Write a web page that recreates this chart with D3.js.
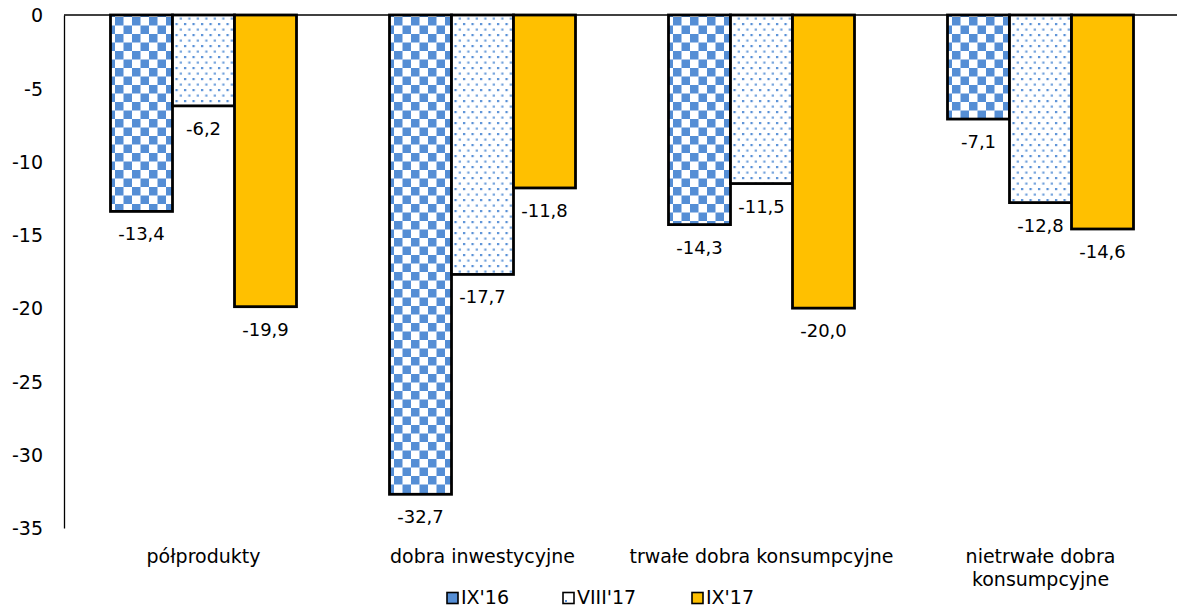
<!DOCTYPE html>
<html>
<head>
<meta charset="utf-8">
<script src="https://cdn.jsdelivr.net/npm/d3@7"></script>
<style>
  html, body { margin: 0; padding: 0; background: #fff; }
  svg { display: block; }
  text { font-family: "DejaVu Sans", Verdana, sans-serif; fill: #000; }
</style>
</head>
<body>
<svg id="chart" width="1177" height="613"></svg>
<script>
// Category groups (multi-line names split on "|")
const categories = ["półprodukty", "dobra inwestycyjne", "trwałe dobra konsumpcyjne", "nietrwałe dobra|konsumpcyjne"];
const seriesNames = ["IX'16", "VIII'17", "IX'17"];
const valuesIX16 = [-13.4, -32.7, -14.3, -7.1];
const valuesVIII17 = [-6.2, -17.7, -11.5, -12.8];
const valuesIX17 = [-19.9, -11.8, -20.0, -14.6];
const yTicks = [0, -5, -10, -15, -20, -25, -30, -35];

const seriesValues = [valuesIX16, valuesVIII17, valuesIX17];

(function () {
const svg = d3.select("#chart");
const W = 1177;
const plotLeft = 64, plotRight = 1180, plotTop = 15, plotBottom = 528;

// Fill patterns
const defs = svg.append("defs");
const blue = "#558ed5";

const check = defs.append("pattern")
  .attr("id", "pat-check").attr("patternUnits", "userSpaceOnUse")
  .attr("width", 17).attr("height", 17);
check.append("rect").attr("width", 17).attr("height", 17).attr("fill", "#fff");
check.append("rect").attr("x", 0).attr("y", 0).attr("width", 8.5).attr("height", 8.5).attr("fill", blue);
check.append("rect").attr("x", 8.5).attr("y", 8.5).attr("width", 8.5).attr("height", 8.5).attr("fill", blue);

const dots = defs.append("pattern")
  .attr("id", "pat-dots").attr("patternUnits", "userSpaceOnUse")
  .attr("width", 8.5).attr("height", 11);
dots.append("rect").attr("width", 8.5).attr("height", 11).attr("fill", "#fff");
dots.append("rect").attr("x", 1).attr("y", 1).attr("width", 2.2).attr("height", 2.2).attr("fill", blue);
dots.append("rect").attr("x", 5.25).attr("y", 6.5).attr("width", 2.2).attr("height", 2.2).attr("fill", blue).attr("opacity", 0.85);

const fills = ["url(#pat-check)", "url(#pat-dots)", "#ffc000"];

// Scales
const x0 = d3.scaleBand().domain(categories).range([plotLeft, plotRight]).padding(0);
const bw = x0.bandwidth();
const x1 = d3.scaleBand().domain(seriesNames).range([bw / 6, bw * 5 / 6]).padding(0);
const y = d3.scaleLinear().domain([-35, 0]).range([plotBottom, plotTop]);

// Y axis
const yAxis = d3.axisLeft(y).tickValues(yTicks).tickSize(0).tickPadding(21)
  .tickFormat(d => d3.format("d")(d).replace("−", "-"));
const gy = svg.append("g").attr("transform", `translate(${plotLeft},0)`).call(yAxis);
gy.select(".domain").attr("stroke", "#000").attr("stroke-width", 1.3);
gy.selectAll("text").style("font-size", "19px").attr("dy", "0.36em")
  .style("font-family", "'DejaVu Sans', Verdana, sans-serif");

// Bars
const groups = svg.append("g").selectAll("g")
  .data(categories).join("g")
  .attr("transform", d => `translate(${x0(d)},0)`);

const fmt = v => d3.format(".1f")(v).replace("−", "-").replace(".", ",");

seriesNames.forEach((s, si) => {
  groups.append("rect")
    .attr("x", x1(s))
    .attr("y", y(0))
    .attr("width", x1.bandwidth())
    .attr("height", (d, ci) => y(seriesValues[si][ci]) - y(0))
    .attr("fill", fills[si])
    .attr("stroke", "#000")
    .attr("stroke-width", 2.8);
});

// Zero line across the plot
svg.append("line")
  .attr("x1", plotLeft).attr("x2", W).attr("y1", y(0)).attr("y2", y(0))
  .attr("stroke", "#000").attr("stroke-width", 1.4);

// Value labels below bar ends
seriesNames.forEach((s, si) => {
  groups.append("text")
    .attr("x", x1(s) + x1.bandwidth() / 2)
    .attr("y", (d, ci) => y(seriesValues[si][ci]) + 24)
    .attr("text-anchor", "middle")
    .attr("dominant-baseline", "middle")
    .style("font-size", "18px")
    .text((d, ci) => fmt(seriesValues[si][ci]));
});

// Category labels
groups.each(function (d) {
  const lines = d.split("|");
  const t = d3.select(this).append("text")
    .attr("text-anchor", "middle")
    .style("font-size", "19px");
  lines.forEach((ln, i) => {
    t.append("tspan").attr("x", bw / 2).attr("y", 557 + i * 23)
      .attr("dominant-baseline", "middle").text(ln);
  });
});

// Legend
const legendX = [447, 563, 692];
const leg = svg.append("g").selectAll("g").data(seriesNames).join("g")
  .attr("transform", (d, i) => `translate(${legendX[i]},598)`);
leg.append("rect").attr("x", 0).attr("y", -5.5).attr("width", 11).attr("height", 11)
  .attr("fill", (d, i) => i === 0 ? blue : i === 1 ? "#fff" : fills[i])
  .attr("stroke", "#000").attr("stroke-width", 1.6);
leg.filter((d, i) => i === 1).append("rect")
  .attr("x", 2).attr("y", 2).attr("width", 2).attr("height", 2).attr("fill", blue);
leg.append("text").attr("x", 14).attr("y", 0).attr("dominant-baseline", "middle")
  .style("font-size", "19px").text(d => d);
})();
</script>
</body>
</html>
